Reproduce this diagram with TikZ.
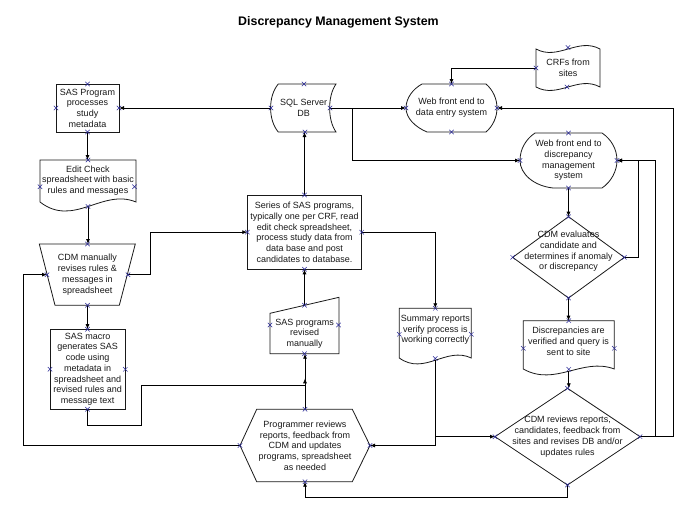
\documentclass[tikz,border=0pt]{standalone}
\usepackage{fontspec}
\setmainfont{Liberation Sans}
\usetikzlibrary{arrows.meta,calc}
\definecolor{cpblue}{RGB}{40,40,150}
\definecolor{ink}{RGB}{25,25,25}
\newcommand{\dmsfont}{\fontsize{9}{10.7}\selectfont}
\begin{document}
\begin{tikzpicture}[x=1pt,y=-1pt,
  shp/.style={draw=none, inner sep=0pt, outer sep=0pt, align=center, font=\dmsfont, text=ink},
  box/.style={draw=ink, line width=0.8pt, inner sep=1pt, outer sep=0pt, align=center, font=\dmsfont, text=ink},
  txt/.style={align=center, inner sep=0pt, font=\dmsfont, text=ink},
  outl/.style={draw=ink, line width=0.8pt, line join=miter},
  arr/.style={draw=black, line width=0.8pt, -{Latex[length=5pt,width=4pt]}},
  cpm/.style={draw=cpblue, line width=0.5pt}
]
\fill[white] (0,0) rectangle (700,519);
\useasboundingbox (0,0) rectangle (700,519);

% title
\node[font=\fontsize{12.4}{14}\selectfont\bfseries, text=black] (title) at (338.5,22.7) {Discrepancy Management System};

% nodes
\node[box, minimum width=63pt, minimum height=48pt] (sp) at (87.5,108) {SAS Program\\processes\\study\\metadata};
\node[shp, minimum width=96pt, minimum height=46.5pt] (ec) at (88,183.25) {};
\node[txt] (ect) at (88,180.5) {Edit Check\\spreadsheet with basic\\rules and messages};
\node[shp, minimum width=81pt, minimum height=61.3pt] (cm) at (87.5,274.65) {CDM manually\\revises rules \&\\messages in\\spreadsheet};
\node[box, minimum width=75.3pt, minimum height=80pt] (sm) at (87.65,369.15) {SAS macro\\generates SAS\\code using\\metadata in\\spreadsheet and\\revised rules and\\message text};
\node[shp, minimum width=59pt, minimum height=48pt] (sql) at (300.5,108) {};
\node[txt] (sqlt) at (303.7,108) {SQL Server\\DB};
\node[shp, minimum width=91pt, minimum height=48pt] (wde) at (451.5,108) {Web front end to\\data entry system};
\node[shp, minimum width=64pt, minimum height=38pt] (crf) at (568,68) {CRFs from\\sites};
\node[shp, minimum width=97pt, minimum height=55pt] (wdd) at (568.5,160.5) {Web front end to\\discrepancy\\management\\system};
\node[box, minimum width=114.4pt, minimum height=74.3pt] (ser) at (304.5,232.15) {Series of SAS programs,\\typically one per CRF, read\\edit check spreadsheet,\\process study data from\\data base and post\\candidates to database.};
\node[shp, minimum width=69pt, minimum height=48.4pt] (sr) at (304.5,329.5) {};
\node[txt] (srt) at (304.7,333.7) {SAS programs\\revised\\manually};
\node[shp, minimum width=72pt, minimum height=52pt] (su) at (435.3,334.3) {};
\node[txt] (sut) at (435.3,330) {Summary reports\\verify process is\\working correctly};
\node[shp, minimum width=91pt, minimum height=50.3pt] (di) at (568.8,345.85) {};
\node[txt] (dit) at (568.5,341.3) {Discrepancies are\\verified and query is\\sent to site};
\node[shp, minimum width=111.6pt, minimum height=81.3pt] (ev) at (568.5,257.35) {};
\node[txt] (evt) at (568.5,251.5) {CDM evaluates\\candidate and\\determines if anomaly\\or discrepancy};
\node[shp, minimum width=145pt, minimum height=96.7pt] (rv) at (567.5,436.65) {CDM reviews reports,\\candidates, feedback from\\sites and revises DB and/or\\updates rules};
\node[shp, minimum width=130pt, minimum height=72.4pt] (hx) at (305,445.5) {Programmer reviews\\reports, feedback from\\CDM and updates\\programs, spreadsheet\\as needed};

% outlines
\draw[outl] (ec.north west) -- (ec.north east) -- (136,202) .. controls (102.4,188) and (73.6,228) .. (40,202) -- cycle;
\draw[outl] (39.3,244) -- (135.3,244) -- (119.3,305.3) -- (55,305.3) -- cycle;
\draw[outl] (278.3,84) -- (336,84) .. controls (327.5,96) and (327.5,120) .. (336,132) -- (278.3,132) .. controls (268,120) and (268,96) .. (278.3,84) -- cycle;
\draw[outl] (422,84) -- (486,84) .. controls (493,90) and (497,99) .. (497,108) .. controls (497,117) and (493,126) .. (486,132) -- (427,132) .. controls (415,127) and (406,118) .. (406,108) .. controls (406,98) and (413,89) .. (422,84) -- cycle;
\draw[outl] (535,133) -- (602,133) .. controls (611,139) and (617,149) .. (617,160.5) .. controls (617,171) and (611,182) .. (602,188) -- (553,188) .. controls (534,186) and (520,174) .. (520,160.5) .. controls (520,149) and (526,139) .. (535,133) -- cycle;
\draw[outl] (536,49) .. controls (558,61) and (578,37) .. (600,49) -- (600,87) .. controls (578,75) and (558,99) .. (536,87) -- cycle;
\draw[outl] (270,313.3) -- (339,297.3) -- (339,353.7) -- (270,353.7) -- cycle;
\draw[outl] (399.3,308.3) -- (471.3,308.3) -- (471.3,358) .. controls (446.1,346) and (424.5,376) .. (399.3,358) -- cycle;
\draw[outl] (523.3,320.7) -- (614.3,320.7) -- (614.3,369) .. controls (582.5,357) and (555.2,387) .. (523.3,369) -- cycle;
\draw[outl] (ev.north) -- (ev.east) -- (ev.south) -- (ev.west) -- cycle;
\draw[outl] (rv.north) -- (rv.east) -- (rv.south) -- (rv.west) -- cycle;
\draw[outl] (256.7,409.3) -- (352.3,409.3) -- (hx.east) -- (352.3,481.7) -- (256.7,481.7) -- (hx.west) -- cycle;

% connectors
\draw[arr] (sql.west) -- (sp.east);
\draw[arr] (sp.south) -- (sp.south |- ec.north);
\draw[arr] (ec.south) -- (ec.south |- cm.north);
\draw[arr] (cm.south) -- (cm.south |- sm.north);
\draw[arr] (cm.east) -- ++(22.7,0) |- (ser.west);
\draw[arr] (ser.north) -- (ser.north |- sql.south);
\draw[arr] (sql.east) -- (wde.west);
\draw[arr] (sql.east) -- ++(22.7,0) |- (wdd.west);
\draw[arr] (crf.west) -| (wde.north);
\draw[arr] (rv.east) -- ++(33.3,0) |- (wde.east);
\draw[arr] (rv.east) -- ++(15.3,0) |- (wdd.east);
\draw[arr] (ev.east) -- ++(14,0) |- (wdd.east);
\draw[arr] (wdd.south) -- (wdd.south |- ev.north);
\draw[arr] (ev.south) -- (ev.south |- di.north);
\draw[arr] (di.south) -- (di.south |- rv.north);
\draw[arr] (ser.east) -| (su.north);
\draw[arr] (su.south) |- (hx.east);
\draw[arr] (su.south) |- (rv.west);
\draw[arr] (rv.south) -- ++(0,12.3) -| (hx.south);
\draw[arr] (hx.north) -- (hx.north |- sr.south);
\draw[arr] (sr.north) -- (ser.south);
\draw[arr] (hx.west) -- ++(-216.7,0) |- (cm.west);
\draw[arr] (sm.south) -- ++(0,16) -- ++(53.5,0) |- ($(hx.north)+(0,-23.6)$) -- ($(hx.north)+(0,-31)$);

% connection point marks
\foreach \p in {(87.5,84),(56,108),(119,108),(87.5,132),
  (88,160),(40,186.7),(134.5,186.7),(88,206.5),
  (87.5,244),(47,274.65),(128,274.65),(87.5,305.3),
  (87.5,329.15),(50,369.3),(125.3,369.3),(87.5,409.15),
  (304,84),(271,108),(330,108),(305,132),
  (451.5,84),(406,108),(497,108),(451.5,132),
  (568,47.5),(536,68),(567,87),
  (568.5,133),(520,160.5),(617,160.5),(568.5,188),
  (304.5,195),(247.3,232.15),(361.7,232.15),(304.5,269.3),
  (304.5,305.3),(270,325),(338.5,325),(304.5,353.7),
  (435.3,308.3),(399.3,334.3),(471.3,334.3),(435.3,358.5),
  (568.8,320.7),(523.3,348.3),(614.3,348.3),(568.8,369.3),
  (568.5,216.7),(624.3,257.35),(568.5,298),(512.7,257.35),
  (567.5,388.3),(640,436.65),(567.5,485),(495,436.65),
  (305,409.3),(370,445.5),(305,481.7),(240,445.5)}
  \draw[cpm] \p +(-2.2,-2.2) -- +(2.2,2.2) \p +(-2.2,2.2) -- +(2.2,-2.2);
\end{tikzpicture}
\end{document}
